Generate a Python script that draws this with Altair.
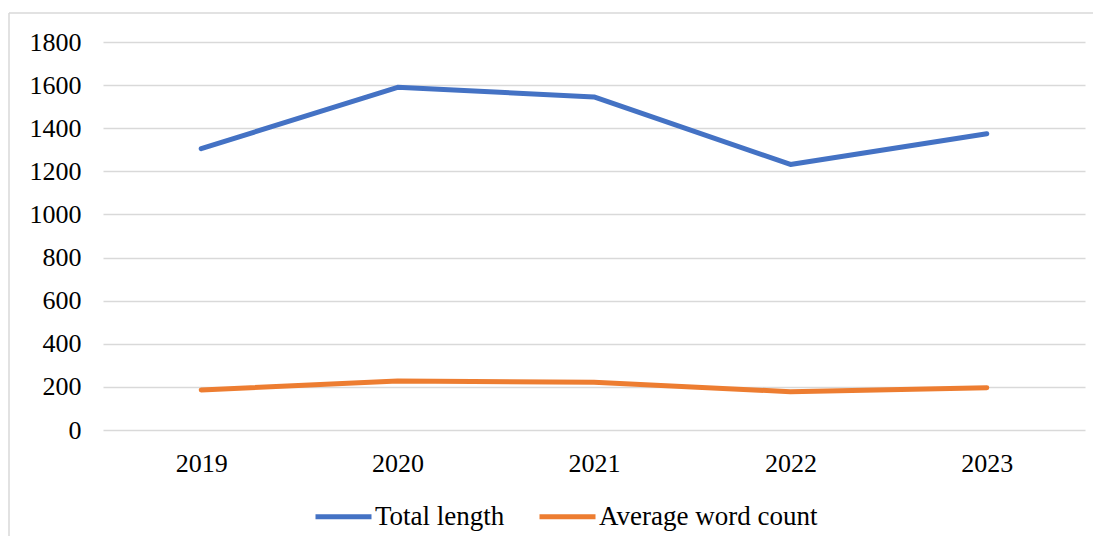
import altair as alt
import pandas as pd

years = ["2019", "2020", "2021", "2022", "2023"]
total_length = [1305, 1590, 1545, 1232, 1374]
avg_word_count = [186, 227, 221, 178, 196]
series_names = ["Total length", "Average word count"]
series_colors = ["#4472C4", "#ED7D31"]
y_ticks = [0, 200, 400, 600, 800, 1000, 1200, 1400, 1600, 1800]

rows = []
for y, v in zip(years, total_length):
    rows.append({"year": y, "value": v, "series": series_names[0], "order": 0})
for y, v in zip(years, avg_word_count):
    rows.append({"year": y, "value": v, "series": series_names[1], "order": 1})
df = pd.DataFrame(rows)

FONT = "Times New Roman, Liberation Serif, serif"
FS = 26
W, H = 982, 388

lines = alt.Chart(df).mark_line(strokeWidth=5, strokeCap="round", strokeJoin="round").encode(
    x=alt.X("year:O", scale=alt.Scale(type="point", padding=0.5),
            axis=alt.Axis(title=None, labelAngle=0, domain=False, ticks=False,
                          labelPadding=20, labelFont=FONT, labelFontSize=FS,
                          labelColor="#000000", grid=False)),
    y=alt.Y("value:Q", scale=alt.Scale(domain=[0, 1800], nice=False),
            axis=alt.Axis(title=None, values=y_ticks, format="d", domain=False, ticks=False,
                          labelPadding=22, labelFont=FONT, labelFontSize=FS,
                          labelColor="#000000", gridColor="#D9D9D9", gridWidth=1.3)),
    color=alt.Color("series:N", sort=series_names,
                    scale=alt.Scale(domain=series_names, range=series_colors),
                    legend=alt.Legend(title=None, orient="none", direction="horizontal",
                                      legendX=210, legendY=444, symbolType="stroke",
                                      symbolSize=3136, symbolStrokeWidth=5,
                                      labelFont=FONT, labelFontSize=27, labelColor="#000000",
                                      labelLimit=500, labelOffset=1, columnPadding=24,
                                      padding=0)),
    order="order:Q",
)

border_top = alt.Chart(pd.DataFrame({"k": [0]})).mark_rule(color="#D9D9D9", strokeWidth=1.5).encode(
    x=alt.value(-94), x2=alt.value(W + 20), y=alt.value(-29)
)
border_left = alt.Chart(pd.DataFrame({"k": [0]})).mark_rule(color="#D9D9D9", strokeWidth=1.5).encode(
    x=alt.value(-94), y=alt.value(-29), y2=alt.value(H + 120)
)

chart = alt.layer(border_top, border_left, lines).properties(
    width=W, height=H,
    autosize=alt.AutoSizeParams(type="none"),
    padding={"left": 95, "top": 34, "right": 8, "bottom": 106},
    background="white",
).configure_view(stroke=None, strokeWidth=0)

chart.save("out.html", embed_options={"renderer": "svg", "actions": False})
